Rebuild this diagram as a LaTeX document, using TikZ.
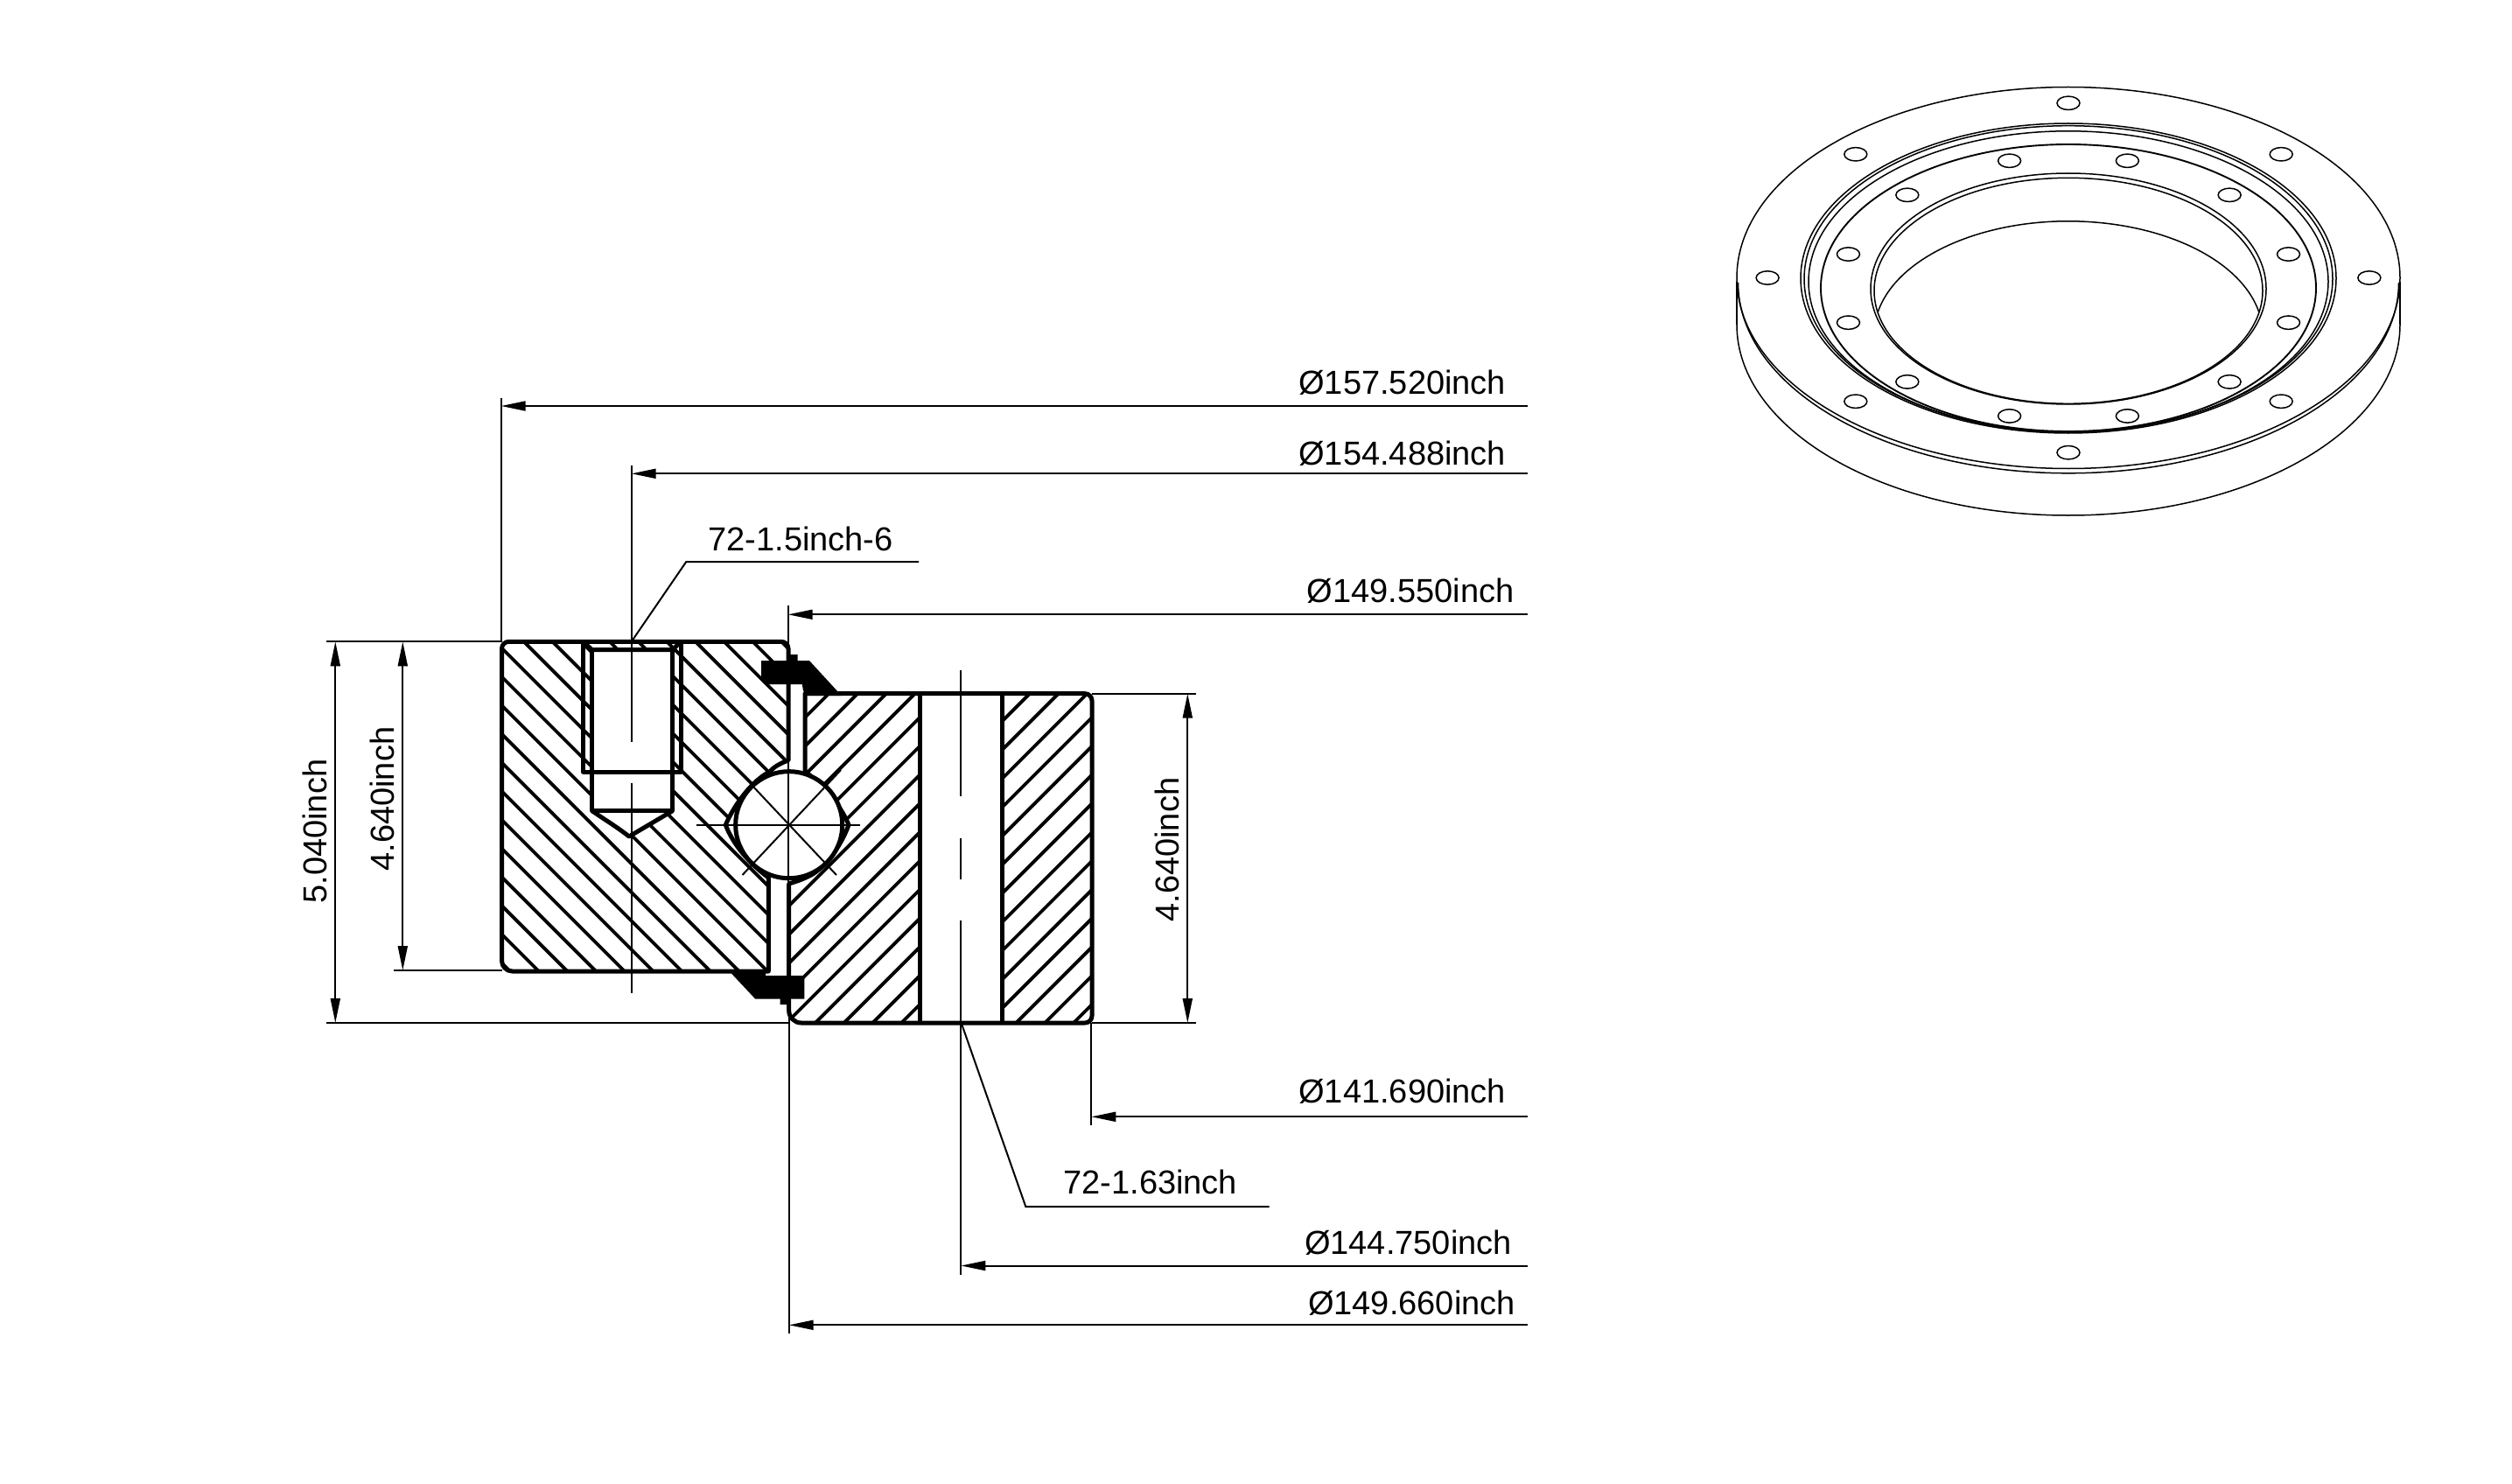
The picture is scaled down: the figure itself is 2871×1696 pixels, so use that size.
\documentclass[tikz,border=0pt]{standalone}
\usepackage{fontspec}
\setmainfont{Liberation Sans}
\usetikzlibrary{arrows.meta}

\def\outerring{(573.5,900) -- (573.5,733.3) -- (901,733.3) [sharp corners] -- (901,869)
  .. controls (890,873) and (884,877) .. (880,881.7)
  .. controls (860,892) and (840,918) .. (829.3,942.7)
  .. controls (838,966) and (858,988) .. (878.3,1003)
  -- (878.3,1110) [rounded corners=6pt] -- (573.5,1110) -- cycle}
\def\innerring{(1248,900) -- (1248,792.7) [sharp corners] -- (920,792.7) -- (920,881.7)
  .. controls (938,895) and (960,918) .. (970,942.7)
  .. controls (960,970) and (940,995) .. (923,1002)
  .. controls (915,1006) and (908,1008) .. (901.7,1010)
  [rounded corners=7pt] -- (901.7,1169) [rounded corners=4pt] -- (1248,1169) -- cycle}

\begin{document}
\begin{tikzpicture}[x=0.5pt,y=-0.5pt,
  section/.style = {line width=2.5pt, line join=round},
  hatchline/.style = {line width=1.9pt},
  thinline/.style = {line width=1pt},
  isoline/.style = {line width=0.75pt},
  dimline/.style = {line width=1pt, {Triangle[length=14pt,width=5.5pt]}-},
  dimboth/.style = {line width=1pt, {Triangle[length=14pt,width=5.5pt]}-{Triangle[length=14pt,width=5.5pt]}},
  label/.style = {inner sep=0pt, anchor=base west, font=\fontsize{19pt}{21pt}\selectfont}]
  \useasboundingbox (0,0) rectangle (2871,1696);

  % hatching of the two rings
  \begin{scope}
    \clip[rounded corners=4pt] \outerring;
    \foreach \k in {-13,...,10}
      \draw[hatchline] ({-134.6+32.7*\k+700},700) -- ({-134.6+32.7*\k+1150},1150);
  \end{scope}
  \begin{scope}
    \clip[rounded corners=4pt] \innerring;
    \foreach \k in {-2,...,21}
      \draw[hatchline] ({1740+32.8*\k-700},700) -- ({1740+32.8*\k-1200},1200);
  \end{scope}

  % bore, tapped hole and ball
  \fill[white] (1051.7,792.7) rectangle (1145,1169);
  \fill[white] (676.7,742.7) -- (768.6,742.7) -- (768.6,926.7) -- (722,957) -- (676.7,926.7) -- cycle;
  \draw[section,rounded corners=4pt] \outerring;
  \draw[section,rounded corners=4pt] \innerring;
  \draw[section] (1051.7,792.7) -- (1051.7,1169) (1145,792.7) -- (1145,1169);
  \draw[section] (666.5,733.3) -- (666.5,882) -- (778,882) -- (778,733.3);
  \draw[section] (666.5,733.3) -- (676.7,742.7) -- (768.6,742.7) -- (778,733.3);
  \draw[section] (676.7,742.7) -- (676.7,926.7) -- (768.6,926.7) -- (768.6,742.7);
  \draw[section] (676.7,926.7) .. controls (693,938) and (705,945) .. (719,956) -- (768.6,926.7);
  \draw[section,fill=white] (901.7,942.7) circle[radius=61];

  % seals
  \fill[black] (870,755) -- (900.7,755) -- (900.7,748) -- (911.7,748) -- (911.7,755) -- (925,755)
    -- (961.7,795) -- (921,795) -- (918,789) -- (916.7,782) -- (877,782) -- (870,775) -- cycle;
  \fill[black] (831.7,1108) -- (875,1108) -- (875,1115) -- (919.3,1115) -- (919.3,1141.7) -- (901.7,1141.7)
    -- (901.7,1148) -- (891.7,1148) -- (891.7,1141.7) -- (863.3,1141.7) -- cycle;

  % centre lines
  \draw[thinline] (795.7,942.7) -- (983.3,942.7);
  \draw[thinline] (848.5,1000) -- (961,880);
  \draw[thinline] (859,897) -- (956,1000);
  \draw[thinline] (721.7,703) -- (721.7,848) (721.7,895) -- (721.7,1135);
  \draw[thinline] (1098.3,765.7) -- (1098.3,910) (1098.3,958) -- (1098.3,1005) (1098.3,1051.7) -- (1098.3,1169);

  % extension lines
  \draw[thinline] (373,733.3) -- (573.5,733.3);
  \draw[thinline] (450,1109) -- (573.5,1109);
  \draw[thinline] (373,1169) -- (901.7,1169);
  \draw[thinline] (1248,792.7) -- (1367,792.7);
  \draw[thinline] (1248,1169) -- (1367,1169);
  \draw[thinline] (572.7,455) -- (572.7,733.3);
  \draw[thinline] (721.7,531.7) -- (721.7,703);
  \draw[thinline] (900.7,691.7) -- (900.7,1148);
  \draw[thinline] (901.7,1148) -- (901.7,1524);
  \draw[thinline] (1098.3,1169) -- (1098.3,1456.7);
  \draw[thinline] (1247.3,1169) -- (1247.3,1286);

  % dimensions on the right
  \foreach \nm/\ex/\ey/\tx/\ty/\txt in {
    d157/572.7/464/1484/450/Ø157.520inch,
    d154/721.7/541.3/1484/531.7/Ø154.488inch,
    d149/900.7/702.3/1493.3/688.7/Ø149.550inch,
    d141/1247.3/1276.3/1484/1260.7/Ø141.690inch,
    d144/1098.3/1446.5/1490.7/1433.3/Ø144.750inch,
    d150/901.7/1514.3/1494.7/1502.7/Ø149.660inch} {
    \coordinate (\nm tip) at (\ex,\ey);
    \coordinate (\nm end) at (1746,\ey);
    \node[label] (\nm) at (\tx,\ty) {\txt};
    \draw[dimline] (\nm tip) -- (\nm end);
  }

  % dimensions on the height
  \coordinate (h504a) at (383.3,733.3);
  \coordinate (h504b) at (383.3,1169);
  \coordinate (h464a) at (460.3,733.3);
  \coordinate (h464b) at (460.3,1109);
  \coordinate (r464a) at (1357.3,792.7);
  \coordinate (r464b) at (1357.3,1169);
  \draw[dimboth] (h504a) -- (h504b);
  \draw[dimboth] (h464a) -- (h464b);
  \draw[dimboth] (r464a) -- (r464b);
  \node[label,rotate=90] (lh504) at (373.3,1033) {5.040inch};
  \node[label,rotate=90] (lh464) at (450.7,996) {4.640inch};
  \node[label,rotate=90] (lr464) at (1347.6,1054) {4.640inch};

  % leaders
  \coordinate (ltap) at (721.7,733.3);
  \coordinate (ltapa) at (784.3,642);
  \coordinate (ltapb) at (1050,642);
  \coordinate (lbore) at (1099,1170);
  \coordinate (lborea) at (1172.3,1379);
  \coordinate (lboreb) at (1450.7,1379);
  \draw[dimline,-] (ltap) -- (ltapa) -- (ltapb);
  \draw[dimline,-] (lbore) -- (lborea) -- (lboreb);
  \node[label] (tap) at (809,629) {72-1.5inch-6};
  \node[label] (bore) at (1215,1364) {72-1.63inch};

  % view of the bearing
  \begin{scope}[isoline]
    \draw (2364,317.5) ellipse[x radius=379,y radius=218];
    \draw (2364,322.8) ++(0:377.5 and 218) arc[start angle=0,end angle=180,x radius=377.5,y radius=218];
    \draw (1985,322) -- (1985,371) (2743,322) -- (2743,371);
    \draw (2364,371) ++(0:379 and 218) arc[start angle=0,end angle=180,x radius=379,y radius=218];
    \draw (2364,318) ellipse[x radius=306,y radius=177];
    \draw (2364,318.7) ellipse[x radius=302,y radius=175];
    \draw (2364,321.8) ellipse[x radius=297,y radius=172];
    \draw[line width=0.95pt] (2364,329) ellipse[x radius=283,y radius=164];
    \draw (2364,330) ellipse[x radius=226,y radius=132];
    \draw (2364,332.3) ellipse[x radius=222,y radius=129];
    \draw (2364,381.8) ++(191:222 and 129) arc[start angle=191,end angle=349,x radius=222,y radius=129];
    \foreach \a in {0,45,...,315}
      \draw (2364,317.5) ++(\a:343.9 and 199.7) ellipse[x radius=13,y radius=7.7];
    \foreach \a in {15,45,...,345}
      \draw (2364,329.6) ++(\a:260.4 and 151) ellipse[x radius=13,y radius=7.7];
  \end{scope}
\end{tikzpicture}
\end{document}
